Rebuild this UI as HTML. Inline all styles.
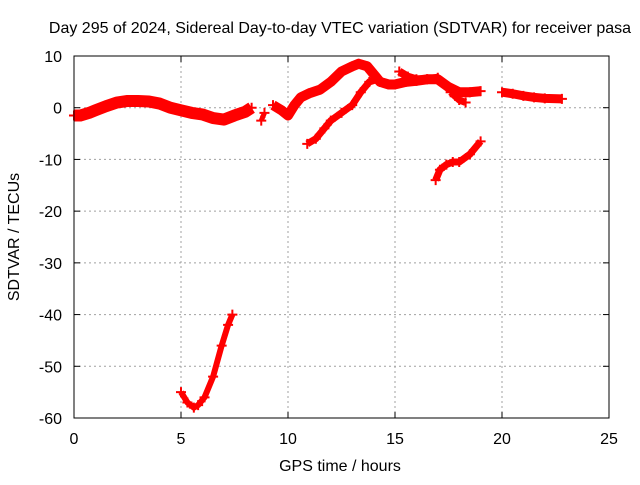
<!DOCTYPE html>
<html><head><meta charset="utf-8"><style>
body{margin:0;background:#fff}
text{font-family:"Liberation Sans",sans-serif;font-size:16px;fill:#000}
</style></head><body>
<svg id="c" width="640" height="480" xmlns="http://www.w3.org/2000/svg">
<text x="340" y="33" text-anchor="middle">Day 295 of 2024, Sidereal Day-to-day VTEC variation (SDTVAR) for receiver pasa</text>
<text x="340" y="471" text-anchor="middle">GPS time / hours</text>
<text transform="translate(19,237) rotate(-90)" text-anchor="middle">SDTVAR / TECUs</text>
<g id="grid"></g><g id="series"></g>
<rect x="74" y="56" width="535" height="362" fill="none" stroke="#000" stroke-width="1"/>
</svg>
<script>
const xTicks=[0,5,10,15,20,25];
const yTicks=[10,0,-10,-20,-30,-40,-50,-60];
const seg1T=[0,0.3,0.7,1,1.5,2,2.5,3,3.5,4,4.5,5,5.5,6,6.5,7,7.5,8,8.3];
const seg1V=[-1.5,-1.5,-1,-0.5,0.3,1,1.3,1.3,1.2,0.8,0,-0.5,-1,-1.3,-2,-2.3,-1.5,-0.8,0];
const seg2T=[8.75,8.9];
const seg2V=[-2.5,-1];
const seg3T=[9.3,9.7,10,10.3,10.6,11,11.5,12,12.5,13,13.3,13.7,14,14.3,14.7,15,15.5,16,16.5,17,17.5,18,18.5,19];
const seg3V=[0.5,-0.5,-1.5,0.5,2,2.8,3.5,5,7,8,8.5,8,6.5,5,4.5,4.5,5,5.2,5.5,5.5,4,3,3,3.2];
const seg4T=[15.2,15.6,16,16.5,17];
const seg4V=[7,6,5.5,5.5,5.8];
const seg5T=[10.9,11.3,11.7,12,12.5,13,13.4,13.8,14.2];
const seg5V=[-7,-6,-4,-2.5,-1,0.5,3,5,5.5];
const seg6T=[17.6,18,18.3];
const seg6V=[3,1.5,1];
const seg7T=[16.9,17.1,17.4,17.7,18,18.5,19];
const seg7V=[-14,-12,-11,-10.5,-10.5,-9,-6.5];
const seg8T=[20,20.5,21,21.5,22,22.8];
const seg8V=[3,2.7,2.3,2,1.8,1.7];
const seg9T=[5,5.3,5.6,5.8,6.1,6.5,6.9,7.2,7.4];
const seg9V=[-55,-57,-58,-57.5,-56,-52,-46,-42,-40];
const X=t=>74+t*(535/25), Y=v=>56+(10-v)*(362/70);
const ns="http://www.w3.org/2000/svg";
const svg=document.getElementById('c'),grid=document.getElementById('grid'),ser=document.getElementById('series');
function mk(tag,attrs,parent){const e=document.createElementNS(ns,tag);for(const k in attrs)e.setAttribute(k,attrs[k]);parent.appendChild(e);return e;}
xTicks.forEach(t=>{
 if(t>0&&t<25){const l=mk('line',{x1:X(t),x2:X(t),y1:56,y2:418,stroke:'#a0a0a0','stroke-dasharray':'2,3'},grid);
 
 }
 mk('line',{x1:X(t),x2:X(t),y1:418,y2:412,stroke:'#000'},grid);
 mk('line',{x1:X(t),x2:X(t),y1:56,y2:62,stroke:'#000'},grid);
 const tx=mk('text',{x:X(t),y:444,'text-anchor':'middle'},grid);tx.textContent=t;
 
 
});
yTicks.forEach(v=>{
 if(v<10&&v>-60){const l=mk('line',{x1:74,x2:609,y1:Y(v),y2:Y(v),stroke:'#a0a0a0','stroke-dasharray':'2,3'},grid);
 
 }
 mk('line',{x1:74,x2:80,y1:Y(v),y2:Y(v),stroke:'#000'},grid);
 mk('line',{x1:603,x2:609,y1:Y(v),y2:Y(v),stroke:'#000'},grid);
 const tx=mk('text',{x:62,y:Y(v)+6,'text-anchor':'end'},grid);tx.textContent=v;
 
 
});
const segs=[[seg1T,seg1V,12],[seg2T,seg2V,5],[seg3T,seg3V,10],[seg4T,seg4V,8],[seg5T,seg5V,7],[seg6T,seg6V,7],[seg7T,seg7V,7],[seg8T,seg8V,9],[seg9T,seg9V,6]];
segs.forEach((s,i)=>{
 const pts=s[0].map((t,j)=>X(t)+','+Y(s[1][j])).join(' ');
 const p=mk('polyline',{points:pts,fill:'none',stroke:'#f00','stroke-width':s[2],'stroke-linejoin':'round'},ser);
 
 
 s[0].forEach((t,j)=>{
  const x=X(t),y=Y(s[1][j]);
  const m=mk('path',{d:`M${x-5},${y}h10M${x},${y-5}v10`,stroke:'#f00','stroke-width':2},ser);
  
  
 });
});
</script>
</body></html>
